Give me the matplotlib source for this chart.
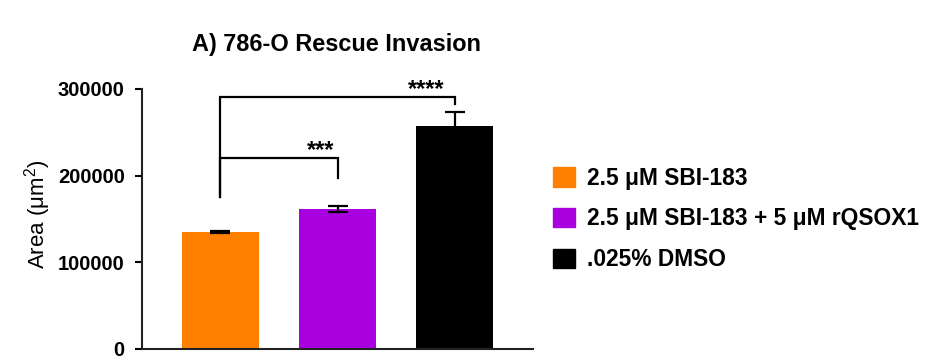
import matplotlib
matplotlib.use("Agg")
import matplotlib.pyplot as plt
from matplotlib.patches import Patch

# data
groups = ["2.5 μM SBI-183", "2.5 μM SBI-183 + 5 μM rQSOX1", ".025% DMSO"]
areas = [135300, 161500, 257700]
errors = [1000, 3100, 15400]
bar_colors = ["#FF8000", "#A900E0", "#000000"]

# significance brackets: (left group, right group, line height, left leg bottom, right leg bottom, stars, star x)
brk_left = [0, 0]
brk_right = [1, 2]
brk_height = [220700, 291100]
brk_left_bottom = [175700, 175700]
brk_right_bottom = [197300, 282700]
brk_stars = ["***", "****"]
brk_star_x = [0.86, 1.755]

y_ticks = [0, 100000, 200000, 300000]

plt.rcParams["font.family"] = ["Liberation Sans", "DejaVu Sans"]
plt.rcParams["mathtext.fontset"] = "custom"
plt.rcParams["mathtext.rm"] = "Liberation Sans"
plt.rcParams["mathtext.default"] = "regular"


def main():
    fig = plt.figure(figsize=(9.34, 3.64), dpi=100)
    ax = fig.add_axes([142 / 934, 15 / 364, 391 / 934, 260 / 364])

    x = list(range(len(areas)))
    ax.bar(x, areas, width=0.66, color=bar_colors, zorder=2)
    ax.errorbar(x, areas, yerr=errors, fmt="none", ecolor="black",
                elinewidth=1.6, capsize=7, capthick=1.6, zorder=3)

    # brackets
    for i in range(len(brk_left)):
        xl, xr = brk_left[i], brk_right[i]
        h = brk_height[i]
        ax.plot([xl, xl, xr, xr], [brk_left_bottom[i], h, h, brk_right_bottom[i]],
                color="black", lw=1.6, clip_on=False, solid_joinstyle="miter")
        ax.text(brk_star_x[i], h + 1000, brk_stars[i], ha="center", va="baseline",
                fontsize=17, fontweight="bold", clip_on=False)

    ax.set_xlim(-0.67, 2.67)
    ax.set_ylim(0, 300000)
    ax.set_yticks(y_ticks)
    ax.set_yticklabels([str(t) for t in y_ticks], fontsize=14.5, fontweight="bold")
    ax.set_xticks([])
    ax.tick_params(axis="y", length=5, width=1.5, pad=7.5)
    for side in ["top", "right"]:
        ax.spines[side].set_visible(False)
    for side in ["left", "bottom"]:
        ax.spines[side].set_linewidth(1.5)
        ax.spines[side].set_color("#222222")

    ax.set_ylabel("Area (μm$^{2}$)", fontsize=16)
    ax.yaxis.set_label_coords(-0.228, 0.52)

    fig.text(336 / 934, 1 - 44 / 364, "A) 786-O Rescue Invasion", ha="center", va="center",
             fontsize=16.9, fontweight="bold")

    handles = [Patch(facecolor=c, edgecolor=c) for c in bar_colors]
    fig.legend(handles, groups, loc="center left", bbox_to_anchor=(553 / 934, 1 - 219 / 364),
               frameon=False, borderpad=0, borderaxespad=0, handlelength=0.95, handleheight=0.95,
               handletextpad=0.55, labelspacing=0.78, prop={"size": 16.4, "weight": "bold"})

    fig.savefig("out.png", dpi=100)


if __name__ == "__main__":
    main()
